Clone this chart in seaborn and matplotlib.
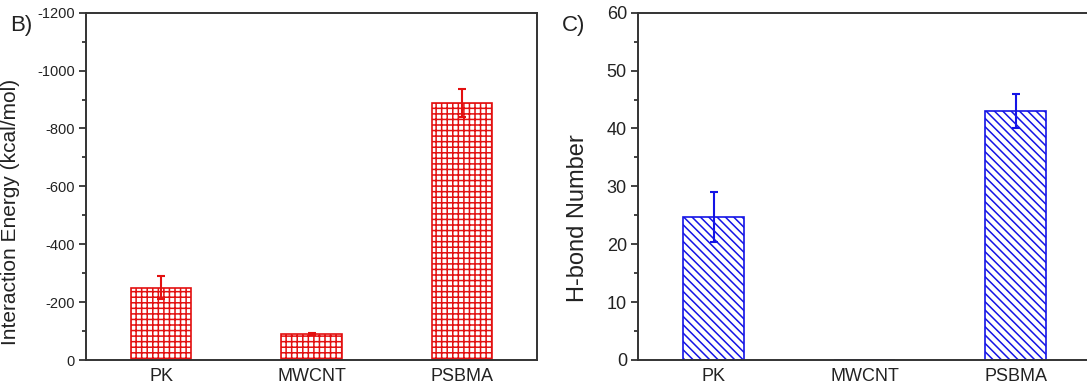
import numpy as np
import pandas as pd
import matplotlib
matplotlib.use('Agg')
import matplotlib.pyplot as plt
from matplotlib.ticker import MultipleLocator
import seaborn as sns

# data
categories = ['PK', 'MWCNT', 'PSBMA']
energy = [-250, -90, -888]
energy_err = [40, 4, 48]
hbond = [24.7, 0, 43.0]
hbond_err = [4.4, 0, 3.0]

sns.set_style('ticks')
plt.rcParams['font.family'] = ['Liberation Sans', 'DejaVu Sans']
plt.rcParams['axes.unicode_minus'] = False
plt.rcParams['hatch.linewidth'] = 1.1

RED = '#e31010'
BLUE = '#1414e6'
SPINE = '#333333'

fig = plt.figure(figsize=(10.87, 3.91), dpi=100)
ax1 = fig.add_axes([86 / 1087, 31 / 391, 451 / 1087, 347.3 / 391])
ax2 = fig.add_axes([638 / 1087, 31 / 391, 453 / 1087, 347.3 / 391])


def style_axis(ax, ytick_size):
    for s in ax.spines.values():
        s.set_visible(True)
        s.set_color(SPINE)
        s.set_linewidth(1.4)
    ax.tick_params(axis='y', which='major', direction='out', length=5, width=1.3,
                   color=SPINE, labelsize=ytick_size, pad=3)
    ax.tick_params(axis='y', which='minor', direction='out', length=3, width=1.3, color=SPINE)
    ax.tick_params(axis='x', length=0, labelsize=13, pad=6, colors='#222222')
    ax.tick_params(axis='y', labelcolor='#222222')
    ax.set_xlim(-0.5, 2.5)
    ax.set_xlabel('')


# B) interaction energy
sns.barplot(x=categories, y=energy, ax=ax1, width=0.4, color='white',
            edgecolor=RED, linewidth=1.2, hatch='+++', saturation=1)
ax1.errorbar(np.arange(len(categories)), energy, yerr=energy_err, fmt='none',
             ecolor=RED, elinewidth=1.5, capsize=3, capthick=1.5)
ax1.set_ylim(0, -1200)
ax1.yaxis.set_major_locator(MultipleLocator(200))
ax1.yaxis.set_minor_locator(MultipleLocator(100))
style_axis(ax1, 10.5)
ax1.set_ylabel('Interaction Energy (kcal/mol)', fontsize=15, color='#222222')
ax1.yaxis.set_label_coords(-0.146, 0.426)

# C) H-bond number
sns.barplot(x=categories, y=hbond, ax=ax2, width=0.4, color='white',
            edgecolor=BLUE, linewidth=1.2, hatch='\\\\\\\\', saturation=1)
idx = [i for i, e in enumerate(hbond_err) if e > 0]
ax2.errorbar([i for i in idx], [hbond[i] for i in idx], yerr=[hbond_err[i] for i in idx],
             fmt='none', ecolor=BLUE, elinewidth=1.5, capsize=3, capthick=1.5)
ax2.set_ylim(0, 60)
ax2.yaxis.set_major_locator(MultipleLocator(10))
ax2.yaxis.set_minor_locator(MultipleLocator(5))
style_axis(ax2, 13)
ax2.set_ylabel('H-bond Number', fontsize=17, color='#222222')
ax2.yaxis.set_label_coords(-0.108, 0.409)

fig.text(10 / 1087, 1 - 25 / 391, 'B)', fontsize=16, va='center', ha='left', color='#222222')
fig.text(562 / 1087, 1 - 25 / 391, 'C)', fontsize=16, va='center', ha='left', color='#222222')

fig.savefig('out.png', dpi=100)
